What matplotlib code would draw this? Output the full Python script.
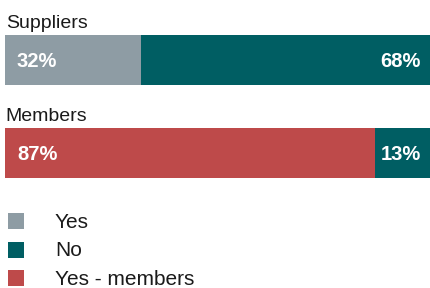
import matplotlib
matplotlib.use("Agg")
import matplotlib.pyplot as plt
from matplotlib.patches import Rectangle

plt.rcParams["font.family"] = ["Liberation Sans", "DejaVu Sans"]

groups = ["Suppliers", "Members"]
yes_vals = [32, 87]
no_vals = [68, 13]
legend_labels = ["Yes", "No", "Yes - members"]

GRAY = "#8e9ca4"
TEAL = "#005e63"
RED = "#be4a4a"
yes_colors = [GRAY, RED]

W, H = 430, 288
fig = plt.figure(figsize=(W / 100, H / 100), dpi=100)

# bar axes: x in percent, y in pixel rows (top = 0)
ax = fig.add_axes([5 / W, 0, 425 / W, 1])
ax.set_xlim(0, 100)
ax.set_ylim(H, 0)
ax.axis("off")

bar_centers = [60, 153]
bar_h = 50
label_y = [27.5, 121]

for i, g in enumerate(groups):
    yc = bar_centers[i]
    ax.barh(yc, yes_vals[i], height=bar_h, color=yes_colors[i], linewidth=0)
    ax.barh(yc, no_vals[i], left=yes_vals[i], height=bar_h, color=TEAL, linewidth=0)
    ax.text(0.2, label_y[i], g, fontsize=14, color="#1a1a1a", va="baseline", ha="left")
    ax.text(2.8, yc + 7, f"{yes_vals[i]}%", fontsize=14.5, fontweight="bold",
            color="white", va="baseline", ha="left")
    ax.text(97.9, yc + 7, f"{no_vals[i]}%", fontsize=14.5, fontweight="bold",
            color="white", va="baseline", ha="right")

# legend, drawn in figure pixel coordinates
leg_colors = [GRAY, TEAL, RED]
leg_rows = [220.5, 249.5, 278]
for lab, c, yc in zip(legend_labels, leg_colors, leg_rows):
    fig.patches.append(Rectangle((8 / W, 1 - (yc + 8) / H), 16 / W, 16 / H,
                                 transform=fig.transFigure, color=c, linewidth=0))
    fig.text(55 / W, 1 - (yc + 7) / H, lab, fontsize=15, color="#1a1a1a",
             va="baseline", ha="left")

fig.savefig("out.png", dpi=100)
